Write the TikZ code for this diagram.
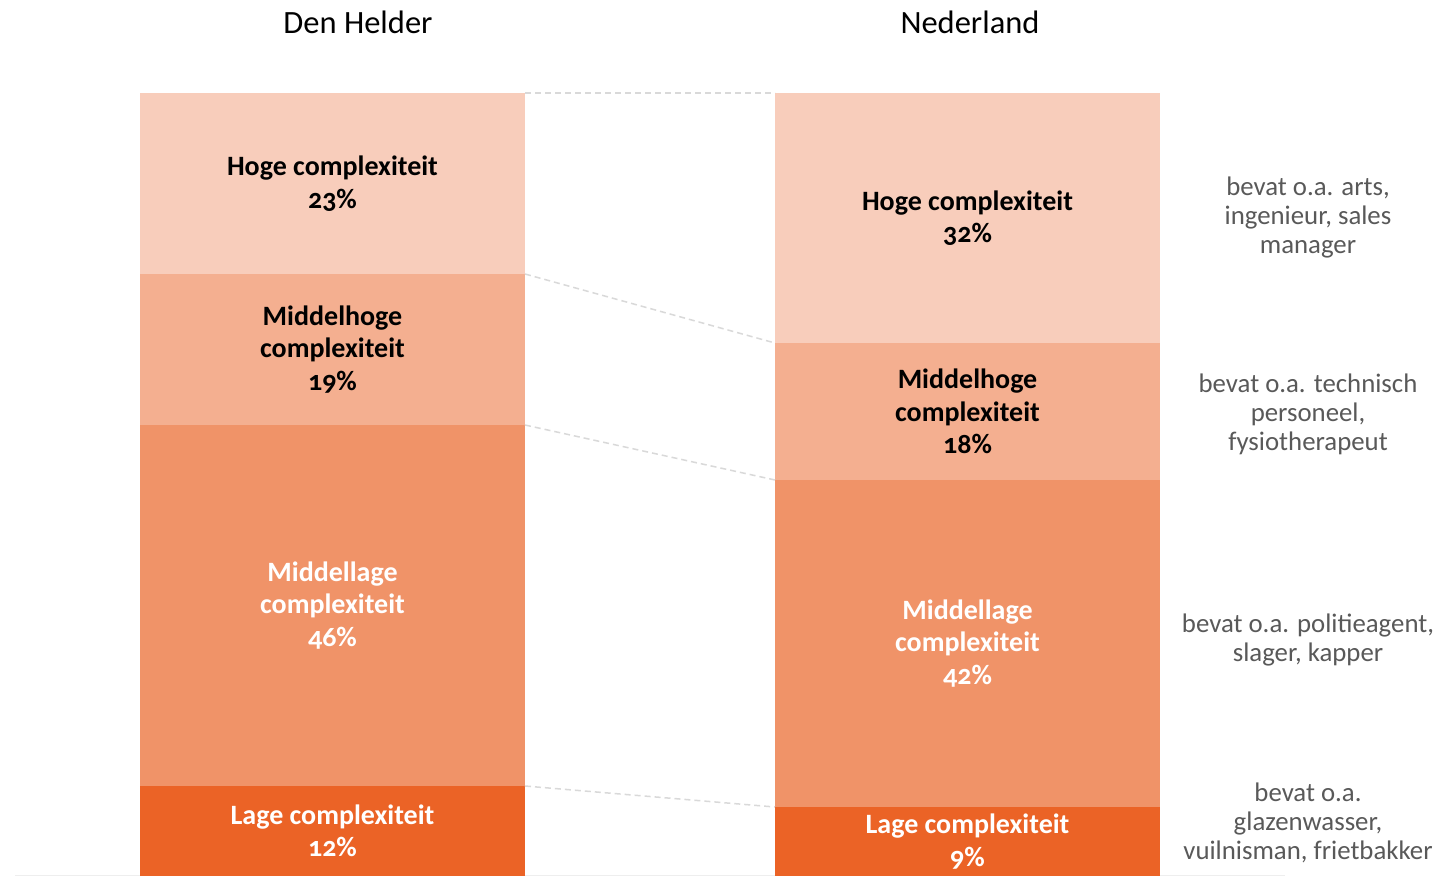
\documentclass[tikz,border=0pt]{standalone}
\usepackage{fontspec}
\setmainfont{Carlito}[Numbers=OldStyle]
\definecolor{cHoge}{HTML}{F8CDBB}
\definecolor{cMidHoog}{HTML}{F4AF90}
\definecolor{cMidLaag}{HTML}{F09368}
\definecolor{cLaag}{HTML}{EB6326}
\definecolor{cDash}{HTML}{D9D9D9}
\definecolor{cNote}{HTML}{595959}
\definecolor{cBase}{HTML}{EEEEEE}
\tikzset{
  seg/.style={draw=none,inner sep=0pt,outer sep=0pt,minimum width=385pt,align=center,
    font=\fontsize{28}{32.5}\selectfont\bfseries},
  linker/.style={draw=cDash,line width=1.5pt,dash pattern=on 6pt off 4pt},
  note/.style={text=cNote,align=center,font=\fontsize{26.8}{29}\selectfont},
  title/.style={text=black,font=\fontsize{32.5}{36}\selectfont},
}
\begin{document}
\begin{tikzpicture}[x=1pt,y=-1pt]
\path[use as bounding box,fill=white] (0,0) rectangle (1455,876);
% baseline
\coordinate (b0) at (15,875.5);
\coordinate (b1) at (1285,875.5);
\draw[cBase,line width=1pt] (b0) -- (b1);
% Den Helder bar
\node[seg,fill=cHoge,minimum height=181pt,text=black] (dh1) at (332.5,183.5) {Hoge complexiteit\\23\%};
\node[seg,fill=cMidHoog,minimum height=151pt,text=black] (dh2) at (332.5,349.5) {Middelhoge\\complexiteit\\19\%};
\node[seg,fill=cMidLaag,minimum height=361pt,text=white] (dh3) at (332.5,605.5) {Middellage\\complexiteit\\46\%};
\node[seg,fill=cLaag,minimum height=90pt,text=white] (dh4) at (332.5,831) {Lage complexiteit\\12\%};
% Nederland bar
\node[seg,fill=cHoge,minimum height=250pt,text=black] (nl1) at (967.5,218) {Hoge complexiteit\\32\%};
\node[seg,fill=cMidHoog,minimum height=137pt,text=black] (nl2) at (967.5,411.5) {Middelhoge\\complexiteit\\18\%};
\node[seg,fill=cMidLaag,minimum height=327pt,text=white] (nl3) at (967.5,643.5) {Middellage\\complexiteit\\42\%};
\node[seg,fill=cLaag,minimum height=69pt,text=white] (nl4) at (967.5,841.5) {Lage complexiteit\\9\%};
% connectors
\draw[linker] (dh1.north east) -- (nl1.north west);
\draw[linker] (dh2.north east) -- (nl2.north west);
\draw[linker] (dh3.north east) -- (nl3.north west);
\draw[linker] (dh4.north east) -- (nl4.north west);
% titles
\node[title] (t1) at (358,22) {Den Helder};
\node[title] (t2) at (970,22) {Nederland};
% notes
\node[note] (n1) at (1308,217) {bevat o.a. arts,\\ingenieur, sales\\manager};
\node[note] (n2) at (1308,414) {bevat o.a. technisch\\personeel,\\fysiotherapeut};
\node[note] (n3) at (1308,639.5) {bevat o.a. politieagent,\\slager, kapper};
\node[note] (n4) at (1308,823) {bevat o.a.\\glazenwasser,\\vuilnisman, frietbakker};
\end{tikzpicture}
\end{document}
